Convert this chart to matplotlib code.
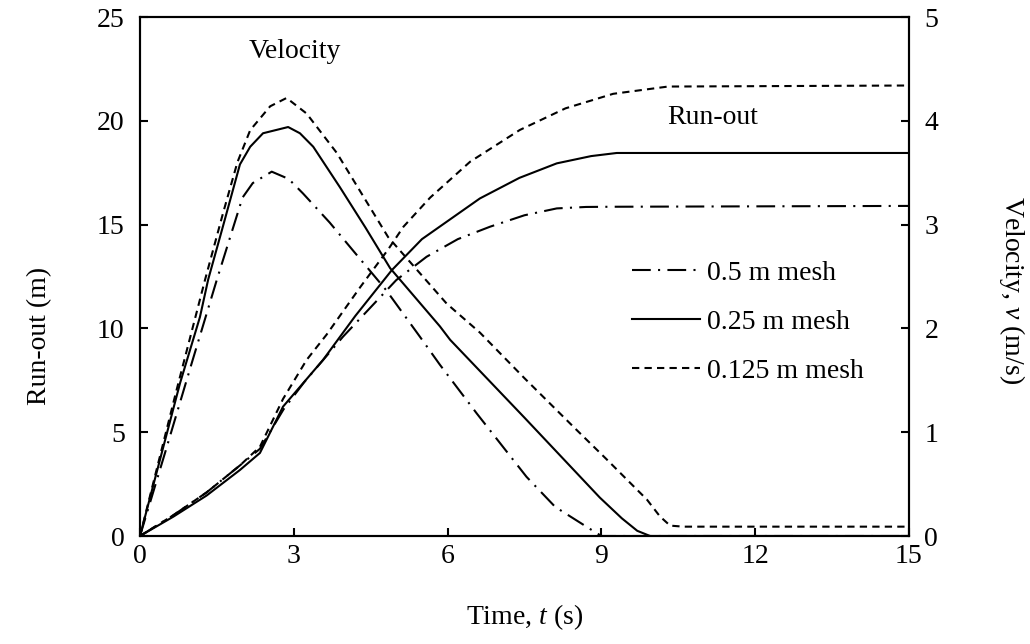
import matplotlib
matplotlib.use("Agg")
import matplotlib.pyplot as plt

plt.rcParams['font.family'] = ['Liberation Serif', 'DejaVu Serif']
plt.rcParams['mathtext.fontset'] = 'custom'
plt.rcParams['mathtext.rm'] = 'Liberation Serif'
plt.rcParams['mathtext.it'] = 'Liberation Serif:italic'

# ---------------- data ----------------
labels = ["0.5 m mesh", "0.25 m mesh", "0.125 m mesh"]

# Run-out (m), left axis
ro_t_05 = [0, 0.65, 1.3, 1.95, 2.34, 2.8, 3.2, 3.96, 5.0, 5.59, 6.2, 6.83, 7.5, 8.13, 8.7, 9.23, 15]
ro_05 = [0, 1.0, 2.1, 3.4, 4.2, 6.1, 7.4, 9.6, 12.33, 13.45, 14.3, 14.9, 15.45, 15.78, 15.85, 15.86, 15.9]

ro_t_025 = [0, 0.65, 1.3, 1.95, 2.34, 2.79, 3.57, 4.2, 4.91, 5.5, 6.63, 7.4, 8.13, 8.8, 9.3, 15]
ro_025 = [0, 0.93, 1.95, 3.18, 4.0, 6.23, 8.48, 10.6, 12.8, 14.3, 16.26, 17.25, 17.95, 18.3, 18.45, 18.45]

ro_t_0125 = [0, 0.65, 1.3, 1.95, 2.34, 2.79, 3.25, 3.64, 4.3, 4.84, 5.14, 5.66, 6.44, 7.41, 8.3, 9.23, 10.3, 15]
ro_0125 = [0, 1.0, 2.1, 3.4, 4.3, 6.6, 8.48, 9.7, 12.0, 13.8, 14.9, 16.3, 18.03, 19.56, 20.6, 21.3, 21.65, 21.7]

# Velocity (m/s), right axis
v_t_05 = [0, 0.5, 1.0, 1.5, 2.0, 2.2, 2.57, 2.9, 3.18, 3.7, 4.19, 4.8, 5.46, 5.85, 6.57, 7.54, 8.1, 8.74, 9.0, 15]
v_05 = [0, 0.82, 1.65, 2.47, 3.26, 3.4, 3.51, 3.44, 3.3, 3.02, 2.73, 2.37, 1.92, 1.65, 1.18, 0.57, 0.28, 0.08, 0.0, 0.0]

v_t_025 = [0, 0.78, 1.17, 1.33, 1.6, 1.95, 2.15, 2.4, 2.89, 3.12, 3.38, 3.9, 4.4, 4.88, 5.85, 6.05, 7.5, 8.97, 9.4, 9.7, 9.95, 15]
v_025 = [0, 1.47, 2.11, 2.47, 2.95, 3.58, 3.75, 3.88, 3.94, 3.88, 3.75, 3.36, 2.97, 2.58, 2.02, 1.89, 1.14, 0.37, 0.17, 0.05, 0.0, 0.0]

v_t_0125 = [0, 0.7, 1.27, 1.62, 1.9, 2.15, 2.54, 2.86, 3.25, 3.84, 4.84, 5.98, 6.63, 7.5, 8.5, 9.1, 9.89, 10.14, 10.34, 10.6, 15]
v_0125 = [0, 1.38, 2.47, 3.11, 3.6, 3.91, 4.14, 4.22, 4.07, 3.69, 2.88, 2.24, 1.96, 1.52, 1.03, 0.74, 0.35, 0.19, 0.1, 0.09, 0.09]

x_ticks = [0, 3, 6, 9, 12, 15]
y_ticks_left = [0, 5, 10, 15, 20, 25]
y_ticks_right = [0, 1, 2, 3, 4, 5]

# ---------------- styles ----------------
lw = 1.5
styles = [(0, (9, 3.5, 1, 3.5)), '-', (0, (3.5, 2.5))]

fig = plt.figure(figsize=(10.30, 6.44), dpi=100)
ax = fig.add_axes([0.1359, 0.1677, 0.7466, 0.8059])
ax2 = ax.twinx()

handles = []
for t, r, ls, lab in zip([ro_t_05, ro_t_025, ro_t_0125], [ro_05, ro_025, ro_0125], styles, labels):
    h, = ax.plot(t, r, color='black', lw=lw, linestyle=ls, label=lab)
    handles.append(h)
for t, v, ls in zip([v_t_05, v_t_025, v_t_0125], [v_05, v_025, v_0125], styles):
    ax2.plot(t, v, color='black', lw=lw, linestyle=ls)

ax.set_xlim(0, 15)
ax.set_ylim(0, 25)
ax2.set_ylim(0, 5)
ax.set_xticks(x_ticks)
ax.set_yticks(y_ticks_left)
ax2.set_yticks(y_ticks_right)

fs = 20
ax.tick_params(axis='both', direction='in', length=6, width=1.5, labelsize=fs)
ax.tick_params(axis='y', pad=11)
ax.tick_params(axis='x', pad=6)
ax2.tick_params(axis='y', direction='in', length=6, width=1.5, labelsize=fs, pad=11)
for a in (ax, ax2):
    for s in a.spines.values():
        s.set_linewidth(1.5)

ax.set_xlabel("Time, $\\it{t}$ (s)", fontsize=fs, labelpad=24)

yl = ax.set_ylabel("Run-out (m)", fontsize=fs)
yl.set_rotation_mode('default')
yl.set_va('center')
yl.set_ha('center')
ax.yaxis.set_label_coords(-0.130, 0.385)

yr = ax2.set_ylabel("Velocity, $\\it{v}$ (m/s)", fontsize=fs, rotation=270)
yr.set_rotation_mode('default')
yr.set_va('center')
yr.set_ha('center')
ax2.yaxis.set_label_coords(1.134, 0.474)

ax.text(3.02, 23.35, "Velocity", fontsize=fs, ha='center', va='center')
ax.text(11.18, 20.15, "Run-out", fontsize=fs, ha='center', va='center')

leg = ax2.legend(handles, labels, loc='upper left', bbox_to_anchor=(0.6398, 0.531),
                 frameon=False, fontsize=fs, handlelength=2.45, handletextpad=0.25,
                 labelspacing=0.85, borderaxespad=0, borderpad=0)

fig.savefig("out.png", dpi=100)
